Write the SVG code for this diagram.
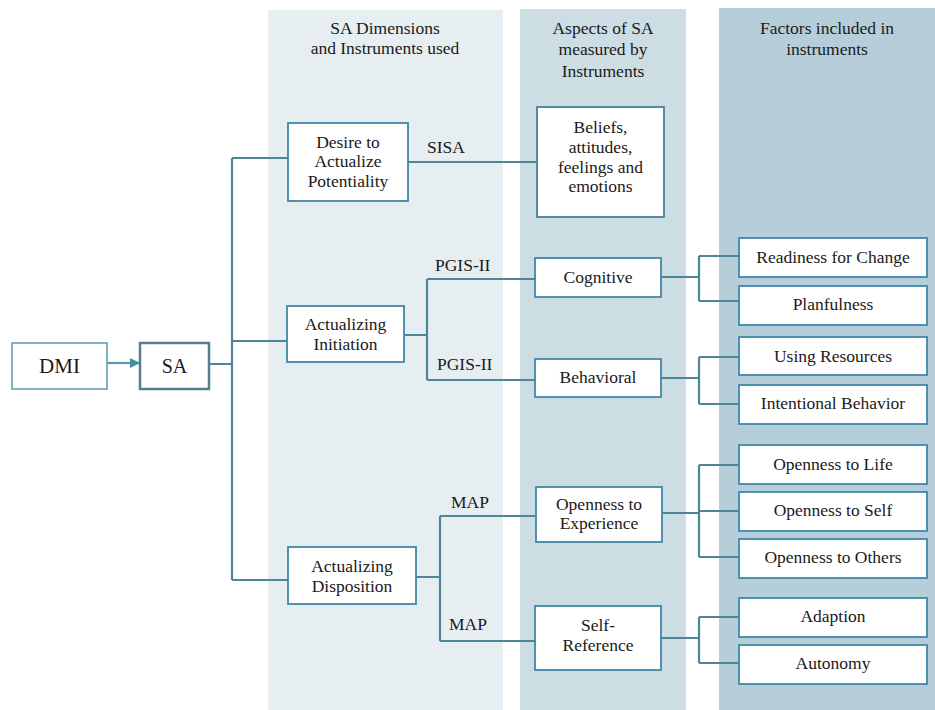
<svg xmlns="http://www.w3.org/2000/svg" width="935" height="710" viewBox="0 0 935 710">
<defs>
<style>
text{font-family:Liberation Serif,Tinos,Times New Roman,Times,serif;font-size:17.5px;fill:#1a1a1a;text-anchor:middle}
.box{fill:#fff;stroke:#3f88a8;stroke-width:1.8}
.conn{fill:none;stroke:#4f8599;stroke-width:2.2}
.lbl{text-anchor:start}
</style>
<marker id="arr" markerWidth="10" markerHeight="10" refX="9" refY="5" orient="auto" markerUnits="userSpaceOnUse">
<path d="M0,0 L10,5 L0,10 Z" fill="#3f8ea3"/>
</marker>
</defs>
<rect width="935" height="710" fill="#fff"/>
<g id="columns">
<rect x="268" y="10" width="235" height="700" fill="#e7eef2"/>
<rect x="520" y="9" width="166" height="701" fill="#cddde4"/>
<rect x="719" y="8" width="216" height="702" fill="#b6ceda"/>
<text x="385" y="34">SA Dimensions</text>
<text x="385" y="54">and Instruments used</text>
<text x="603" y="34">Aspects of SA</text>
<text x="603" y="55">measured by</text>
<text x="603" y="77">Instruments</text>
<text x="827" y="34">Factors included in</text>
<text x="827" y="55">instruments</text>
</g>
<g id="connectors">
<line class="conn" x1="107" y1="363" x2="139" y2="363" stroke-width="1.5" marker-end="url(#arr)" style="stroke:#5a9aad"/>
<path class="conn" d="M209,364 H232 M232,158 V580 M232,158 H288 M232,341 H287 M232,580 H288"/>
<path class="conn" d="M408,162 H537"/>
<path class="conn" d="M404,335 H427 M427,279 V380 M427,279 H535 M427,380 H535"/>
<path class="conn" d="M416,577 H440 M440,516 V641 M440,516 H536 M440,641 H535"/>
<path class="conn" d="M661,277 H699 M699,256 V301 M699,256 H739 M699,301 H739"/>
<path class="conn" d="M661,378 H699 M699,357 V404 M699,357 H739 M699,404 H739"/>
<path class="conn" d="M662,513 H699 M699,465 V557 M699,465 H739 M699,511 H739 M699,557 H739"/>
<path class="conn" d="M661,638 H699 M699,617 V663 M699,617 H739 M699,663 H739"/>
<text class="lbl" x="427" y="153">SISA</text>
<text class="lbl" x="435" y="271">PGIS-II</text>
<text class="lbl" x="437" y="370">PGIS-II</text>
<text class="lbl" x="451" y="508">MAP</text>
<text class="lbl" x="449" y="630">MAP</text>
</g>
<g id="dmi">
<rect class="box" x="12" y="343" width="95" height="46" style="stroke:#5a9aad;stroke-width:1.5"/>
<text x="59.5" y="373" style="font-size:21px">DMI</text>
</g>
<g id="sa">
<rect class="box" x="140" y="343" width="69" height="46" style="stroke:#557f8f;stroke-width:2.5"/>
<text x="174.5" y="373" style="font-size:20px">SA</text>
</g>
<g id="desire">
<rect class="box" x="288" y="123" width="120" height="78"/>
<text x="348" y="148">Desire to</text>
<text x="348" y="167">Actualize</text>
<text x="348" y="187">Potentiality</text>
</g>
<g id="initiation">
<rect class="box" x="287" y="306" width="117" height="56"/>
<text x="345.5" y="330">Actualizing</text>
<text x="345.5" y="350">Initiation</text>
</g>
<g id="disposition">
<rect class="box" x="288" y="547" width="128" height="57"/>
<text x="352" y="572">Actualizing</text>
<text x="352" y="592">Disposition</text>
</g>
<g id="beliefs">
<rect class="box" x="537" y="107" width="127" height="110" style="stroke:#4a7f95"/>
<text x="600.5" y="133">Beliefs,</text>
<text x="600.5" y="153">attitudes,</text>
<text x="600.5" y="173">feelings and</text>
<text x="600.5" y="192">emotions</text>
</g>
<g id="cognitive">
<rect class="box" x="535" y="258" width="126" height="39"/>
<text x="598" y="283">Cognitive</text>
</g>
<g id="behavioral">
<rect class="box" x="535" y="359" width="126" height="38"/>
<text x="598" y="383">Behavioral</text>
</g>
<g id="openness-experience">
<rect class="box" x="536" y="487" width="126" height="55"/>
<text x="599" y="510">Openness to</text>
<text x="599" y="529">Experience</text>
</g>
<g id="self-reference">
<rect class="box" x="535" y="606" width="126" height="64"/>
<text x="598" y="631">Self-</text>
<text x="598" y="651">Reference</text>
</g>
<g id="readiness">
<rect class="box" x="739" y="238" width="188" height="39"/>
<text x="833" y="263">Readiness for Change</text>
</g>
<g id="planfulness">
<rect class="box" x="739" y="286" width="188" height="39"/>
<text x="833" y="310">Planfulness</text>
</g>
<g id="using-resources">
<rect class="box" x="739" y="337" width="188" height="38"/>
<text x="833" y="362">Using Resources</text>
</g>
<g id="intentional-behavior">
<rect class="box" x="739" y="385" width="188" height="39"/>
<text x="833" y="409">Intentional Behavior</text>
</g>
<g id="openness-life">
<rect class="box" x="739" y="445" width="188" height="39"/>
<text x="833" y="470">Openness to Life</text>
</g>
<g id="openness-self">
<rect class="box" x="739" y="492" width="188" height="39"/>
<text x="833" y="516">Openness to Self</text>
</g>
<g id="openness-others">
<rect class="box" x="739" y="539" width="188" height="39"/>
<text x="833" y="563">Openness to Others</text>
</g>
<g id="adaption">
<rect class="box" x="739" y="598" width="188" height="39"/>
<text x="833" y="622">Adaption</text>
</g>
<g id="autonomy">
<rect class="box" x="739" y="645" width="188" height="39"/>
<text x="833" y="669">Autonomy</text>
</g>
</svg>
